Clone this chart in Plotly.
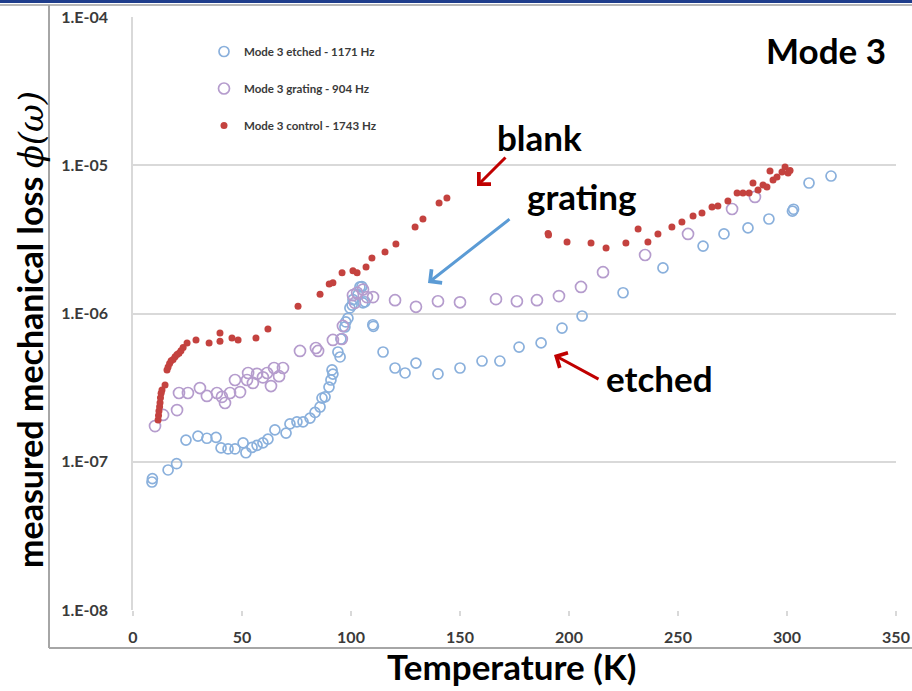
import plotly.graph_objects as go

# ---- data: temperature (K) vs measured mechanical loss ----
etched_T = [8.7, 8.9, 16.1, 20.0, 24.3, 29.8, 33.9, 38.1, 40.4, 43.6, 46.8, 50.5, 51.8, 54.6,
            56.9, 59.6, 61.9, 65.1, 70.2, 72.0, 75.2, 78.0, 81.2, 83.5, 85.8, 86.7, 88.1, 89.9,
            90.8, 91.3, 91.7, 94.0, 95.0, 95.4, 97.2, 97.6, 98.6, 99.5, 100.5, 100.9, 103.2, 104.1,
            105.0, 105.5, 106.4, 110.0, 110.3, 114.7, 120.2, 124.8, 129.8, 139.9, 150.0, 160.1,
            168.3, 177.1, 187.2, 196.8, 206.0, 224.8, 243.1, 261.5, 271.1, 282.1, 291.7, 302.5,
            303.0, 310.1, 320.2]
etched_loss = [7.3e-8, 7.7e-8, 8.8e-8, 9.7e-8, 1.40e-7, 1.49e-7, 1.44e-7, 1.46e-7, 1.24e-7,
               1.22e-7, 1.22e-7, 1.34e-7, 1.15e-7, 1.25e-7, 1.29e-7, 1.34e-7, 1.42e-7, 1.64e-7,
               1.56e-7, 1.80e-7, 1.86e-7, 1.86e-7, 1.97e-7, 2.15e-7, 2.34e-7, 2.69e-7, 2.74e-7,
               3.19e-7, 3.56e-7, 4.16e-7, 3.9e-7, 5.5e-7, 5.09e-7, 6.73e-7, 8.11e-7, 8.77e-7,
               9.3e-7, 1.09e-6, 1.14e-6, 1.24e-6, 1.34e-6, 1.51e-6, 1.52e-6, 1.18e-6, 1.20e-6,
               8.4e-7, 8.2e-7, 5.5e-7, 4.29e-7, 3.97e-7, 4.63e-7, 3.91e-7, 4.29e-7, 4.78e-7,
               4.78e-7, 5.94e-7, 6.33e-7, 7.98e-7, 9.62e-7, 1.38e-6, 2.03e-6, 2.85e-6, 3.44e-6,
               3.78e-6, 4.34e-6, 4.9e-6, 5.05e-6, 7.59e-6, 8.46e-6]

grating_T = [10.1, 13.8, 20.2, 21.1, 25.2, 30.7, 33.9, 38.5, 40.8, 42.2, 44.5, 46.8, 49.1, 52.3,
             52.8, 55.0, 56.9, 59.6, 61.5, 63.3, 64.7, 67.0, 68.8, 76.6, 83.9, 84.9, 91.7, 95.8,
             96.3, 100.9, 101.8, 102.8, 105.5, 107.3, 110.1, 120.2, 129.8, 139.9, 150.0, 166.5,
             176.1, 185.3, 195.4, 205.5, 215.6, 234.9, 254.6, 274.8, 285.3]
grating_loss = [1.74e-7, 2.07e-7, 2.23e-7, 2.91e-7, 2.91e-7, 3.14e-7, 2.78e-7, 2.91e-7, 2.74e-7,
                2.49e-7, 2.91e-7, 3.56e-7, 2.95e-7, 3.56e-7, 3.97e-7, 3.40e-7, 3.92e-7, 3.71e-7,
                3.97e-7, 3.24e-7, 4.29e-7, 3.78e-7, 4.29e-7, 5.59e-7, 5.85e-7, 5.59e-7, 6.63e-7,
                6.73e-7, 8.24e-7, 1.33e-6, 1.18e-6, 1.38e-6, 1.45e-6, 1.29e-6, 1.29e-6, 1.23e-6,
                1.11e-6, 1.21e-6, 1.19e-6, 1.25e-6, 1.21e-6, 1.23e-6, 1.31e-6, 1.51e-6, 1.90e-6,
                2.48e-6, 3.44e-6, 5.07e-6, 6.11e-6]

control_T = [11.5, 11.7, 11.9, 12.2, 12.4, 12.6, 12.9, 13.3, 14.7, 15.6, 16.1, 16.8, 17.5, 18.4,
             19.3, 20.2, 21.1, 22.0, 23.0, 24.8, 28.9, 34.9, 39.9, 39.9, 45.4, 48.2, 56.4, 61.9,
             75.7, 85.8, 90.0, 91.7, 95.9, 100.9, 102.8, 106.9, 109.6, 115.6, 120.6, 129.4,
             133.0, 140.4, 144.0, 190.4, 190.6, 199.1, 210.1, 217.0, 226.1, 231.7, 236.2, 240.8,
             247.2, 251.8, 256.9, 261.0, 265.6, 268.3, 272.9, 277.1, 279.8, 282.6, 284.4, 286.7,
             289.0, 290.8, 292.2, 293.6, 295.4, 297.7, 299.1, 300.5, 301.4]
control_loss = [1.91e-7, 2.05e-7, 2.2e-7, 2.35e-7, 2.5e-7, 2.7e-7, 2.9e-7, 3.05e-7, 3.29e-7,
                4.16e-7, 4.36e-7, 4.6e-7, 4.8e-7, 4.9e-7, 5.1e-7, 5.3e-7, 5.4e-7, 5.6e-7, 5.9e-7,
                6.33e-7, 6.63e-7, 6.33e-7, 7.38e-7, 6.5e-7, 6.84e-7, 6.63e-7, 6.84e-7, 7.86e-7,
                1.12e-6, 1.35e-6, 1.58e-6, 1.61e-6, 1.88e-6, 1.94e-6, 1.88e-6, 2.06e-6, 2.37e-6,
                2.60e-6, 2.94e-6, 3.83e-6, 4.34e-6, 5.56e-6, 6.01e-6, 3.46e-6, 3.38e-6, 3.04e-6,
                2.99e-6, 2.77e-6, 2.99e-6, 3.72e-6, 3.04e-6, 3.44e-6, 3.83e-6, 4.14e-6, 4.55e-6,
                4.76e-6, 5.23e-6, 5.31e-6, 5.74e-6, 6.50e-6, 6.50e-6, 6.50e-6, 7.59e-6, 6.81e-6,
                7.36e-6, 7.13e-6, 9.14e-6, 7.95e-6, 8.33e-6, 9.00e-6, 9.73e-6, 8.87e-6, 9.2e-6]

x_ticks = [0, 50, 100, 150, 200, 250, 300, 350]
y_ticks = [1e-8, 1e-7, 1e-6, 1e-5, 1e-4]
y_tick_text = ["1.E-08", "1.E-07", "1.E-06", "1.E-05", "1.E-04"]

# ---- page geometry (pixels) ----
W, H = 912, 691
L, R, T, B = 133, 16, 17, 81
PW, PH = W - L - R, H - T - B


def px(xp, yp):
    """Convert page pixels to paper coordinates."""
    return (xp - L) / PW, (H - B - yp) / PH


TICK_FONT = dict(family="Lato", weight="bold", size=16, color="#3a3a3a")

fig = go.Figure()
fig.add_trace(go.Scatter(
    x=etched_T, y=etched_loss, mode="markers", name="Mode 3 etched - 1171 Hz",
    legendgroup="a",
    marker=dict(symbol="circle-open", size=10, color="#8ab0dc", line=dict(width=1.7))))
fig.add_trace(go.Scatter(
    x=grating_T, y=grating_loss, mode="markers", name="Mode 3 grating - 904 Hz",
    legendgroup="b",
    marker=dict(symbol="circle-open", size=11, color="#b59ccd", line=dict(width=1.7))))
fig.add_trace(go.Scatter(
    x=control_T, y=control_loss, mode="markers", name="Mode 3 control - 1743 Hz",
    legendgroup="c",
    marker=dict(symbol="circle", size=7, color="#c4423f")))

annotations = []


def label(text, xp, yp, size, angle=0):
    x, y = px(xp, yp)
    annotations.append(dict(text=text, x=x, y=y, xref="paper", yref="paper",
                            showarrow=False, textangle=angle,
                            xanchor="center", yanchor="middle",
                            font=dict(family="Lato", weight="bold", size=size, color="#000000")))


def arrow(tip, tail, color):
    x, y = px(*tip)
    annotations.append(dict(text="", x=x, y=y, xref="paper", yref="paper",
                            showarrow=True, ax=tail[0] - tip[0], ay=tail[1] - tip[1],
                            arrowhead=4, arrowsize=1.1, arrowwidth=3, arrowcolor=color))


label("Mode 3", 826, 50, 35)
label("blank", 539, 137, 35)
label("grating", 582, 196, 35)
label("etched", 659, 378, 35)
label("Temperature (K)", 511, 666, 35)
label("measured mechanical loss <span style='font-family:DejaVu Serif;font-weight:normal'>"
      "<i>ϕ(ω)</i></span>", 30, 330, 34, angle=-90)

arrow((477, 186), (507, 156), "#c00000")
arrow((428, 283), (511, 218), "#5b9bd5")
arrow((554, 355), (600, 380), "#c00000")

# slide frame: blue band on top, grey border around the chart picture
frame = "#a6a6a6"
shapes = [
    dict(type="rect", xref="paper", yref="paper",
         x0=px(0, 0)[0], x1=px(W, 0)[0], y0=px(0, 0)[1], y1=px(0, 3)[1],
         fillcolor="#1f3d8c", line=dict(width=0), layer="above"),
    dict(type="line", xref="paper", yref="paper",
         x0=px(0, 5)[0], x1=px(W, 5)[0], y0=px(0, 5)[1], y1=px(0, 5)[1],
         line=dict(color="#b8b8b8", width=2)),
    dict(type="line", xref="paper", yref="paper",
         x0=px(49, 0)[0], x1=px(49, 0)[0], y0=px(0, 5)[1], y1=px(0, 648)[1],
         line=dict(color=frame, width=2)),
    dict(type="line", xref="paper", yref="paper",
         x0=px(49, 0)[0], x1=px(W, 0)[0], y0=px(0, 648)[1], y1=px(0, 648)[1],
         line=dict(color=frame, width=2)),
]

fig.update_layout(
    width=W, height=H,
    margin=dict(l=L, r=R, t=T, b=B, autoexpand=False),
    paper_bgcolor="white", plot_bgcolor="white",
    showlegend=True,
    legend=dict(x=px(204, 0)[0], y=px(0, 37)[1], xanchor="left", yanchor="top",
                bgcolor="rgba(0,0,0,0)", traceorder="grouped", tracegroupgap=18,
                font=dict(family="Lato", weight="bold", size=11.5, color="#3a3a3a")),
    xaxis=dict(range=[0, 350], tickvals=x_ticks, showgrid=False, zeroline=False,
               showline=False, ticks="outside", ticklen=5, tickcolor="#d9d9d9",
               tickwidth=1.5, tickfont=TICK_FONT, ticklabelstandoff=8, automargin=False),
    yaxis=dict(type="log", range=[-8, -4], tickvals=y_ticks, ticktext=y_tick_text,
               showgrid=True, gridcolor="#d9d9d9", gridwidth=1.5, zeroline=False,
               showline=True, linecolor="#d9d9d9", linewidth=1.5, ticks="",
               tickfont=TICK_FONT, ticklabelstandoff=20, automargin=False),
    annotations=annotations,
    shapes=shapes,
)

fig.write_html("out.html")
